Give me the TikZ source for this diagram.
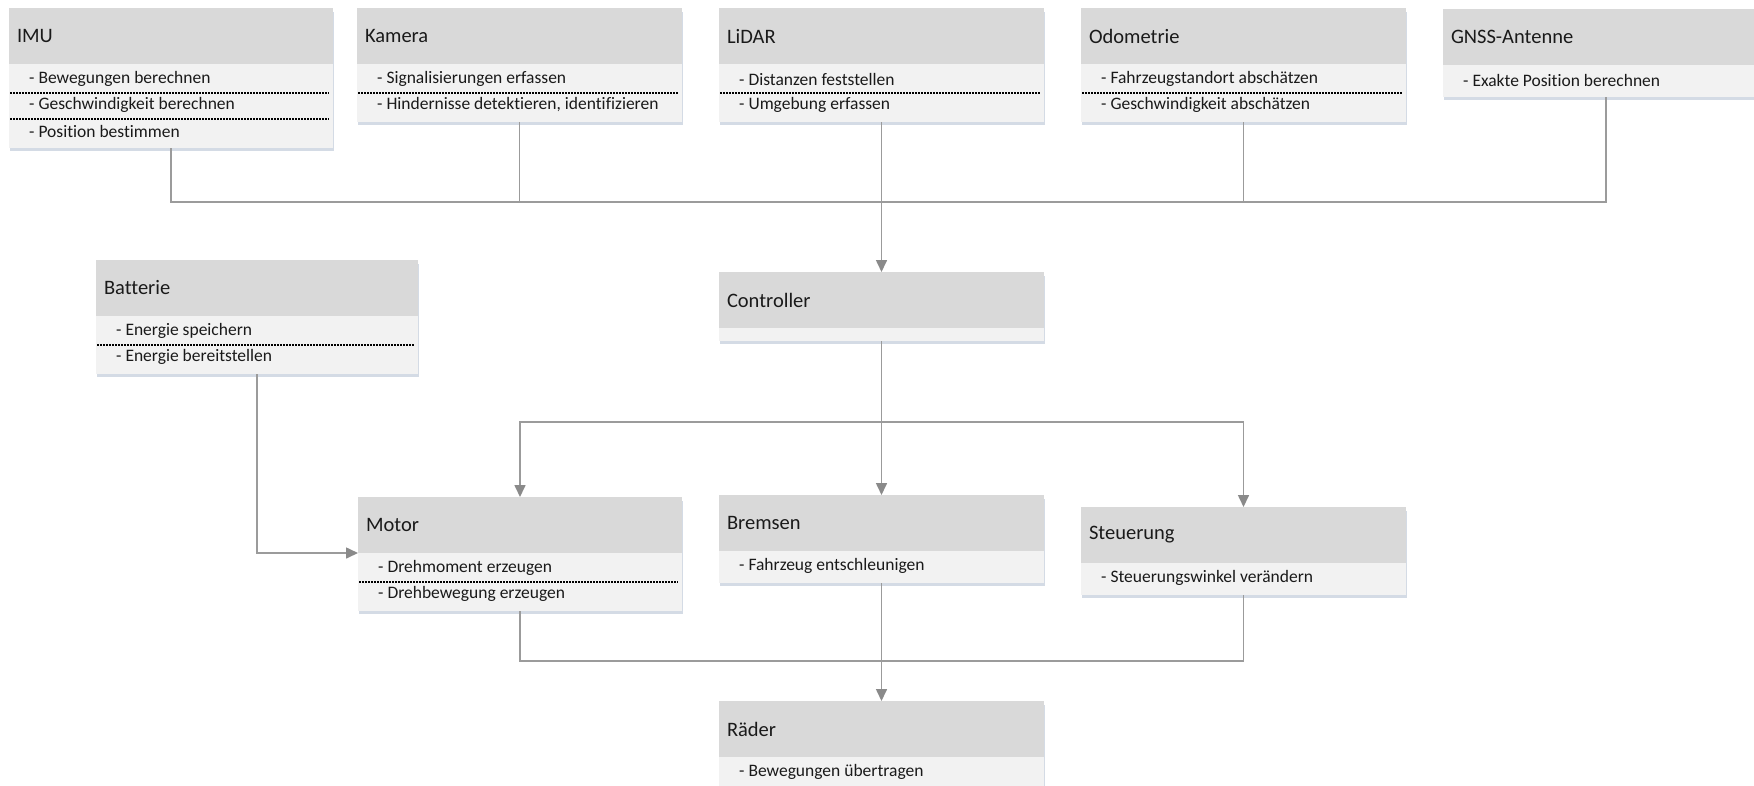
\documentclass[tikz,border=0pt]{standalone}
\usepackage{fontspec}
\setmainfont{Carlito}[Ligatures={NoCommon}]
\usetikzlibrary{arrows.meta}
\pgfdeclarelayer{background}
\pgfsetlayers{background,main}
\definecolor{hdrc}{RGB}{217,217,217}
\definecolor{bodyc}{RGB}{242,242,242}
\definecolor{shadc}{RGB}{212,219,229}
\definecolor{linec}{RGB}{155,155,155}
\definecolor{arrc}{RGB}{138,138,138}
\definecolor{txtc}{RGB}{26,26,26}
\newcommand\umlbox[7]{%
  \pgfmathsetmacro\umlTW{#4-16}%
  \node[hdr, minimum width=#4pt, text width=\umlTW pt] (#1h) at (#2,#3) {#5};
  \pgfmathsetmacro\umlBH{#6==0 ? 13 : 6+26*#6}%
  \node[bodyb, minimum width=#4pt, minimum height=\umlBH pt] (#1) at (#1h.south west) {};
  \begin{pgfonlayer}{background}
    \fill[shadc] ([xshift=0.5pt,yshift=-4pt]#1h.north west) rectangle ([xshift=1pt,yshift=-2.5pt]#1.south east);
  \end{pgfonlayer}
  \ifnum#6>0
  \foreach \t [count=\i from 0] in {#7} {
    \node[btxt] (#1t\i) at ([xshift=20pt,yshift={-(15+26*\i)*1pt}]#1.north west) {\t};
    \ifnum\i>0
      \draw[sepl] ([xshift=1pt,yshift={-(3+26*\i)*1pt}]#1.north west) -- ([xshift=-4pt,yshift={-(3+26*\i)*1pt}]#1.north east);
    \fi
  }
  \fi
}
\tikzset{
  hdr/.style={fill=hdrc, minimum height=56pt, inner xsep=8pt, inner ysep=0pt, outer sep=0pt,
    align=left, anchor=north west, text=txtc, font=\fontsize{20.5}{24}\selectfont},
  bodyb/.style={fill=bodyc, inner sep=0pt, outer sep=0pt, anchor=north west},
  btxt/.style={anchor=west, inner sep=0pt, text=txtc, font=\fontsize{17.5}{21}\selectfont},
  sepl/.style={black, line width=1.3pt, dash pattern=on 2pt off 1pt},
  conn/.style={draw=linec, line width=1.6pt},
  arr/.style={conn, -{Triangle[length=12pt,width=11pt,color=arrc]}},
  dbl/.style={conn, {Triangle[length=12pt,width=11pt,color=arrc]}-{Triangle[length=12pt,width=11pt,color=arrc]}},
}
\begin{document}
\begin{tikzpicture}[x=1pt,y=-1pt]
\useasboundingbox (0,0) rectangle (1754,785);
\begin{pgfonlayer}{background}
\fill[white] (0,0) rectangle (1754,785);
\end{pgfonlayer}
\clip (0,0) rectangle (1754,785);

\umlbox{imu}{9}{8}{324}{IMU}{3}{- Bewegungen berechnen, - Geschwindigkeit berechnen, - Position bestimmen}
\umlbox{kam}{357}{8}{325}{Kamera}{2}{- Signalisierungen erfassen, {- Hindernisse detektieren, identifizieren}}
\umlbox{lidar}{719}{8}{325}{LiDAR}{2}{- Distanzen feststellen, - Umgebung erfassen}
\umlbox{odo}{1081}{8}{325}{Odometrie}{2}{- Fahrzeugstandort abschätzen, - Geschwindigkeit abschätzen}
\umlbox{gnss}{1443}{9}{326}{GNSS-Antenne}{1}{- Exakte Position berechnen}
\umlbox{batt}{96}{260}{322}{Batterie}{2}{- Energie speichern, - Energie bereitstellen}
\umlbox{ctrl}{719}{272}{325}{Controller}{0}{}
\umlbox{motor}{358}{497}{324}{Motor}{2}{- Drehmoment erzeugen, - Drehbewegung erzeugen}
\umlbox{brems}{719}{495}{325}{Bremsen}{1}{- Fahrzeug entschleunigen}
\umlbox{steu}{1081}{507}{325}{Steuerung}{1}{- Steuerungswinkel verändern}
\umlbox{rad}{719}{701}{325}{Räder}{1}{- Bewegungen übertragen}

\coordinate (bus) at (882,202);
\coordinate (br) at (881,422);
\coordinate (bus2) at (881,661);

\draw[conn] (imu.south) -- (imu.south |- bus) -- (gnss.south |- bus) -- (gnss.south);
\draw[conn] (kam.south) -- (kam.south |- bus);
\draw[conn] (odo.south) -- (odo.south |- bus);
\draw[arr] (lidar.south) -- (lidar.south |- ctrlh.north);
\draw[arr] (ctrl.south) -- (ctrl.south |- bremsh.north);
\draw[dbl] (motorh.north) -- (motorh.north |- br) -- (steuh.north |- br) -- (steuh.north);
\draw[arr] (batt.south) |- (motorh.south west);
\draw[conn] (motor.south) -- (motor.south |- bus2) -- (steu.south |- bus2) -- (steu.south);
\draw[arr] (brems.south) -- (brems.south |- radh.north);
\end{tikzpicture}
\end{document}
